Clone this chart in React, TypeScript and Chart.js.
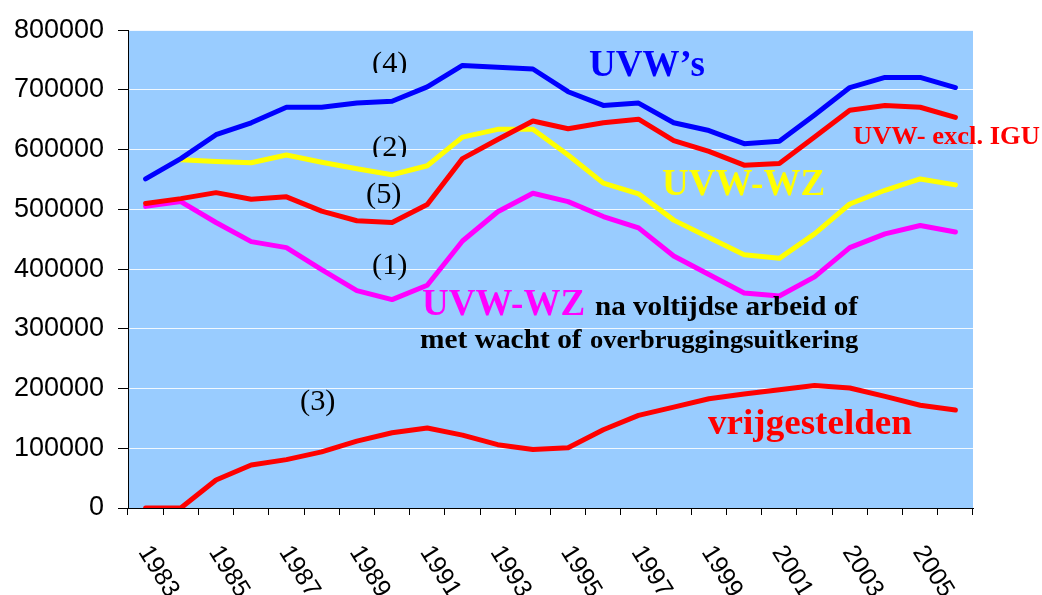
import React, { useEffect, useRef } from 'react';
import { Chart, registerables } from 'chart.js';

Chart.register(...registerables);

const years = ['1983', '1984', '1985', '1986', '1987', '1988', '1989', '1990', '1991', '1992', '1993', '1994', '1995', '1996', '1997', '1998', '1999', '2000', '2001', '2002', '2003', '2004', '2005', '2006'];
const xTickLabels = ['1983', '1985', '1987', '1989', '1991', '1993', '1995', '1997', '1999', '2001', '2003', '2005'];
const yTicks = [0, 100000, 200000, 300000, 400000, 500000, 600000, 700000, 800000];

const uvwTotal = [551000, 585000, 625000, 645000, 671000, 671000, 678000, 681000, 705000, 741000, 738000, 735000, 697000, 674000, 678000, 645000, 632000, 610000, 614000, 658000, 704000, 721000, 721000, 704000];
const uvwExclIgu = [510000, 518000, 528000, 517000, 521000, 497000, 481000, 478000, 508000, 585000, 617000, 648000, 635000, 645000, 651000, 615000, 597000, 574000, 577000, 621000, 666000, 674000, 671000, 654000];
const uvwWz = [null, 583000, 580000, 578000, 591000, 579000, 568000, 558000, 573000, 621000, 634000, 634000, 591000, 544000, 526000, 482000, 453000, 424000, 418000, 459000, 509000, 532000, 551000, 541000];
const uvwWzNa = [505000, 513000, 478000, 446000, 436000, 399000, 364000, 349000, 373000, 447000, 496000, 527000, 513000, 488000, 469000, 422000, 391000, 360000, 355000, 387000, 436000, 459000, 473000, 462000];
const vrijgestelden = [0, 0, 47000, 72000, 81000, 94000, 112000, 126000, 134000, 122000, 106000, 98000, 101000, 131000, 155000, 169000, 183000, 191000, 198000, 205000, 201000, 187000, 172000, 164000];

const SERIF = '"Liberation Serif", "Times New Roman", serif';
const SANS = '"Liberation Sans", Arial, sans-serif';

type Note = { text: string; x: number; y: number; size: number; bold?: boolean; color?: string; clipBottom?: number; sx?: number };
const notes: Note[] = [
  { text: '(4)', x: 372, y: 72, size: 29, clipBottom: 73, sx: 1.05 },
  { text: '(2)', x: 372, y: 156, size: 29, clipBottom: 157, sx: 1.05 },
  { text: '(5)', x: 366, y: 203, size: 29, sx: 1.05 },
  { text: '(1)', x: 372, y: 274, size: 29, sx: 1.05 },
  { text: '(3)', x: 300, y: 410, size: 29, sx: 1.05 },
  { text: 'UVW\u2019s', x: 589, y: 76, size: 37, bold: true, color: '#0000FF' },
  { text: 'UVW- excl. IGU', x: 853, y: 144, size: 26, bold: true, color: '#FF0000', sx: 1.02 },
  { text: 'UVW-WZ', x: 662, y: 195, size: 37, bold: true, color: '#FFFF00' },
  { text: 'UVW-WZ', x: 422, y: 315, size: 37, bold: true, color: '#FF00FF' },
  { text: 'na voltijdse arbeid of', x: 595, y: 315, size: 28, bold: true, sx: 1.04 },
  { text: 'met wacht of', x: 420, y: 348, size: 28, bold: true, sx: 1.05 },
  { text: 'overbruggingsuitkering', x: 590, y: 348, size: 26, bold: true, sx: 1.02 },
  { text: 'vrijgestelden', x: 708, y: 434, size: 36, bold: true, color: '#FF0000', sx: 1.03 },
];

const bgPlugin = {
  id: 'bgPlugin',
  beforeDraw(chart: any) {
    const { ctx, chartArea } = chart;
    const { left, top, right, bottom } = chartArea;
    ctx.save();
    ctx.fillStyle = '#99CCFF';
    ctx.fillRect(left, top, right - left, bottom - top);
    ctx.restore();
  },
};

const textPlugin = {
  id: 'textPlugin',
  afterDraw(chart: any) {
    const { ctx } = chart;
    const xs = chart.scales.x;
    ctx.save();
    ctx.font = `25px ${SANS}`;
    ctx.fillStyle = '#000';
    ctx.textAlign = 'left';
    ctx.textBaseline = 'middle';
    xTickLabels.forEach((lab) => {
      const idx = years.indexOf(lab);
      const x = xs.getPixelForValue(idx);
      ctx.save();
      ctx.translate(x - 2, xs.top + 40);
      ctx.rotate((58 * Math.PI) / 180);
      ctx.fillText(lab, 0, 0);
      ctx.restore();
    });
    ctx.restore();

    notes.forEach((n) => {
      ctx.save();
      if (n.clipBottom !== undefined) {
        ctx.beginPath();
        ctx.rect(0, 0, chart.width, n.clipBottom);
        ctx.clip();
      }
      ctx.font = `${n.bold ? 'bold ' : ''}${n.size}px ${SERIF}`;
      ctx.fillStyle = n.color || '#000';
      ctx.textAlign = 'left';
      ctx.textBaseline = 'alphabetic';
      ctx.translate(n.x, n.y);
      ctx.scale(n.sx || 1, 1);
      ctx.fillText(n.text, 0, 0);
      ctx.restore();
    });
  },
};

const lineDs = (label: string, data: (number | null)[], color: string) => ({
  label,
  data,
  borderColor: color,
  backgroundColor: color,
  borderWidth: 5,
  pointRadius: 0,
  tension: 0,
  fill: false,
  borderCapStyle: 'round' as const,
  borderJoinStyle: 'round' as const,
  spanGaps: false,
});

export default function App() {
  const canvasRef = useRef<HTMLCanvasElement | null>(null);

  useEffect(() => {
    if (!canvasRef.current) return;
    const chart = new Chart(canvasRef.current, {
      type: 'line',
      data: {
        labels: years,
        datasets: [
          lineDs('UVW\u2019s', uvwTotal, '#0000FF'),
          lineDs('UVW- excl. IGU', uvwExclIgu, '#FF0000'),
          lineDs('UVW-WZ', uvwWz, '#FFFF00'),
          lineDs('UVW-WZ na voltijdse arbeid', uvwWzNa, '#FF00FF'),
          lineDs('vrijgestelden', vrijgestelden, '#FF0000'),
        ],
      },
      options: {
        animation: false,
        responsive: false,
        maintainAspectRatio: false,
        layout: { padding: { top: 28, right: 69, left: 0, bottom: 0 } },
        plugins: { legend: { display: false }, tooltip: { enabled: false } },
        scales: {
          x: {
            type: 'category',
            offset: true,
            grid: { drawOnChartArea: false, drawTicks: true, tickLength: 7, tickColor: '#000', offset: true },
            ticks: { display: false },
            border: { display: true, color: '#000', width: 1 },
            afterFit(s: any) {
              s.height = 87;
            },
          },
          y: {
            min: 0,
            max: 800000,
            afterBuildTicks(s: any) {
              s.ticks = yTicks.map((v) => ({ value: v }));
            },
            ticks: {
              font: { family: SANS, size: 27 },
              color: '#000',
              padding: 14,
              callback: (v: any) => String(v),
            },
            grid: {
              color: (c: any) => (c.tick && c.tick.value === 0 ? 'rgba(0,0,0,0)' : 'rgba(255,255,255,0.85)'),
              lineWidth: 1,
              tickColor: '#000',
              tickLength: 10,
            },
            border: { display: true, color: '#000', width: 1 },
            afterFit(s: any) {
              s.width = 128;
            },
          },
        },
      },
      plugins: [bgPlugin, textPlugin],
    });
    return () => chart.destroy();
  }, []);

  return (
    <div style={{ position: 'absolute', left: 0, top: 0, width: 1042, height: 595, background: '#fff' }}>
      <canvas ref={canvasRef} width={1042} height={595} style={{ width: 1042, height: 595, display: 'block' }} />
    </div>
  );
}
